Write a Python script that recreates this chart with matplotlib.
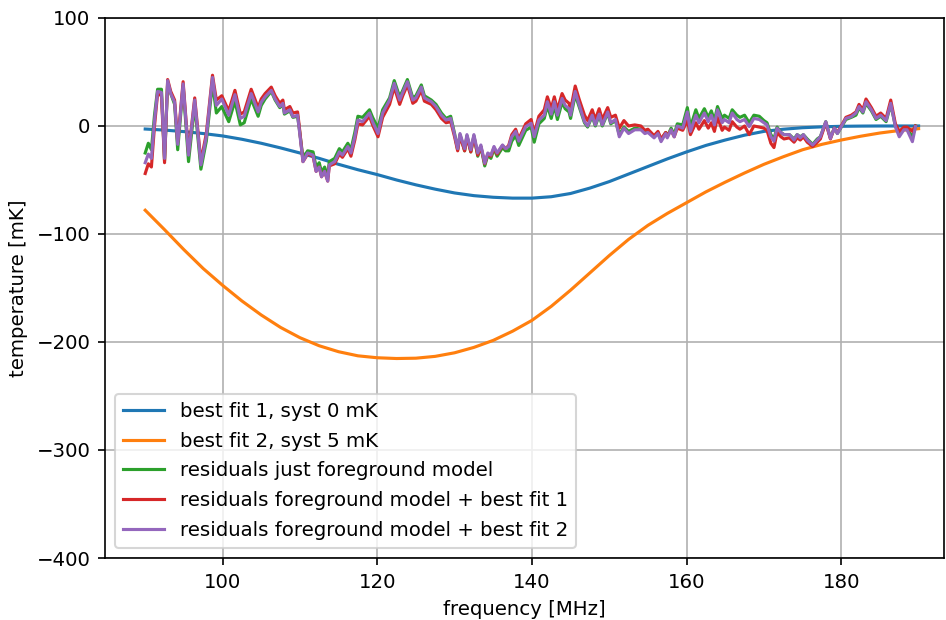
import matplotlib
matplotlib.use("Agg")
import matplotlib.pyplot as plt

# smooth fits, read every 2.5 MHz
fit_freq = [90, 92.5, 95, 97.5, 100, 102.5, 105, 107.5, 110, 112.5, 115, 117.5,
            120, 122.5, 125, 127.5, 130, 132.5, 135, 137.5, 140, 142.5, 145, 147.5,
            150, 152.5, 155, 157.5, 160, 162.5, 165, 167.5, 170, 172.5, 175, 177.5,
            180, 182.5, 185, 187.5, 190]
fit1 = [-2.8, -3.8, -5.2, -7, -9.2, -12.3, -16, -20.3, -25, -30, -35.5, -40.5,
        -45, -50, -54.5, -58.5, -62, -64.5, -66, -66.8, -66.8, -65.5, -62.5, -57.5,
        -51.5, -44.5, -37.5, -30.5, -24, -18, -13, -8.5, -5, -3, -1.6, -0.8,
        -0.3, -0.1, 0, 0, 0]
fit2 = [-78, -96, -114.5, -132, -147.5, -162, -175, -186.5, -196, -203.5, -209, -212.8,
        -214.6, -215.3, -215, -213.3, -210, -205, -198.5, -190, -180, -167, -152, -136,
        -120, -105, -92, -81, -71, -61, -52, -43.5, -35.5, -28.5, -22, -17,
        -13, -9.5, -6.5, -4.2, -2.5]

# residuals
res_freq = [90.0, 90.4, 90.8, 91.2, 91.6, 92.1, 92.5, 92.9, 93.3, 93.8, 94.2, 94.9,
            95.6, 96.4, 97.2, 97.9, 98.7, 99.2, 99.9, 100.8, 101.6, 102.3, 102.8, 103.7,
            104.6, 105.0, 105.5, 106.3, 106.8, 107.4, 107.8, 108.0, 108.7, 109.1, 109.7, 109.9,
            110.4, 111.0, 111.7, 112.1, 112.5, 112.8, 113.2, 113.6, 113.8, 114.5, 115.1, 115.5,
            116.2, 116.6, 117.1, 117.5, 118.1, 119.0, 119.4, 120.1, 120.7, 121.6, 122.2, 122.9,
            123.3, 123.9, 124.6, 125.0, 125.7, 126.1, 127.0, 127.6, 128.3, 128.9, 129.5, 130.0,
            130.4, 130.7, 131.3, 131.6, 132.1, 132.5, 133.0, 133.4, 133.9, 134.3, 134.7, 135.1,
            135.5, 136.2, 136.6, 137.0, 137.4, 137.9, 138.3, 139.2, 139.9, 140.3, 140.9, 141.6,
            142.0, 142.5, 142.9, 143.3, 143.9, 144.3, 144.8, 145.0, 145.6, 146.1, 146.8, 147.2,
            147.8, 148.2, 148.7, 149.1, 149.8, 150.2, 150.8, 151.3, 151.9, 152.5, 153.3, 154.1,
            154.6, 155.0, 155.8, 156.3, 156.7, 157.3, 157.5, 158.0, 158.4, 158.8, 159.5, 160.1,
            160.5, 161.2, 161.6, 162.3, 162.8, 163.2, 163.6, 164.0, 164.6, 164.9, 165.5, 165.9,
            166.5, 166.9, 167.5, 168.1, 168.7, 169.4, 170.0, 170.4, 170.9, 171.3, 171.7, 172.2,
            172.6, 173.3, 173.9, 174.3, 174.7, 175.1, 175.6, 176.3, 176.9, 177.3, 178.0, 178.6,
            179.1, 179.5, 180.0, 180.6, 181.3, 181.9, 182.3, 182.8, 183.2, 183.9, 184.5, 185.1,
            185.8, 186.4, 187.0, 187.5, 188.1, 188.5, 189.2, 189.6]

res_fg = [-25, -16, -22, 10, 34, 34, -32, 40, 30, 20, -22, 37,
          -33, 20, -40, -14, 40, 12, 18, 4, 23, 1, 3, 25,
          9, 19, 25, 32, 24, 17, 20, 11, 14, 8, 9, -1,
          -30, -23, -24, -38, -34, -43, -38, -47, -33, -30, -21, -24,
          -16, -22, -6, 9, 8, 15, 8, -2, 15, 26, 42, 27,
          33, 43, 26, 28, 38, 28, 24, 20, 12, 7, 9, -7,
          -22, -8, -23, -9, -24, -9, -28, -19, -37, -27, -30, -21,
          -28, -20, -23, -23, -14, -9, -18, -4, -1, -15, 2, 7,
          19, 7, 19, 6, 22, 16, 13, 7, 29, 18, 3, -1,
          9, 0, 10, 0, 12, 2, 5, -8, -1, -5, -2, -3,
          -6, -5, -10, -6, -13, -6, -10, -2, -8, 2, 1, 17,
          -1, 15, 7, 16, 8, 14, 5, 18, 7, 10, 7, 15,
          10, 8, 10, 3, 10, 9, 5, 3, -8, -12, -1, -6,
          -8, -8, -12, -8, -10, -8, -12, -17, -12, -10, 4, -11,
          -2, -7, -1, 6, 8, 10, 17, 12, 21, 14, 6, 9,
          4, 20, 0, -8, -2, -3, -10, 0]

res_fit1 = [-44, -35, -38, 0, 30, 28, -34, 43, 32, 24, -15, 41,
            -25, 26, -33, -7, 47, 24, 28, 14, 33, 11, 13, 34,
            17, 25, 30, 36, 28, 21, 24, 15, 18, 12, 13, 1,
            -33, -26, -28, -42, -38, -47, -42, -51, -37, -35, -26, -29,
            -21, -28, -13, 2, 1, 9, 1, -10, 8, 20, 36, 20,
            28, 38, 21, 23, 33, 23, 20, 15, 7, 3, 4, -10,
            -23, -9, -23, -10, -24, -10, -27, -19, -35, -26, -28, -20,
            -26, -18, -21, -18, -8, -3, -12, 2, 6, -7, 9, 15,
            27, 16, 27, 15, 30, 24, 21, 15, 37, 25, 10, 5,
            15, 6, 16, 6, 17, 8, 10, -2, 5, 0, 1, 0,
            -4, -3, -9, -5, -12, -6, -9, -4, -10, -2, -4, 5,
            -8, 3, -3, 5, -2, 3, -5, 8, -4, -1, -4, 4,
            -1, -3, 0, -8, 0, -1, -2, -4, -16, -20, -6, -10,
            -12, -11, -15, -11, -13, -10, -15, -19, -15, -12, 3, -12,
            -2, -6, 0, 8, 10, 13, 20, 15, 25, 17, 9, 12,
            7, 24, 2, -5, -1, -1, -5, 0]

res_fit2 = [-34, -26, -30, 5, 32, 31, -30, 42, 30, 22, -17, 39,
            -27, 24, -36, -10, 45, 19, 25, 10, 29, 7, 9, 30,
            13, 22, 27, 33, 25, 18, 21, 12, 15, 8.6, 10, -2,
            -33, -25, -27, -42, -38, -47, -42, -51, -36, -33, -24, -27,
            -19, -25, -10, 5.5, 4, 12, 4, -7, 12, 24, 39.5, 24,
            31, 41, 24, 26, 36, 26, 22.5, 18, 10, 5.5, 7, -8,
            -21, -7, -21, -8, -22, -8, -25, -17.6, -34.5, -25, -27, -19,
            -25, -17.6, -21, -19, -10, -5, -14, -0.6, 2.5, -10, 5.5, 10,
            22.5, 11, 22.5, 10, 25.5, 19, 16, 10, 32, 20, 4, 0,
            10, 1, 11, 1, 13, 3, 6, -10, -2, -7, -3.5, -3.5,
            -7, -6, -11, -7, -14.5, -7, -11, -3.5, -10, 0, -2, 13,
            -5, 10, 3, 12, 4, 10, 1, 15, 3, 6, 3, 12,
            6, 4, 6, -0.6, 7, 6, 3, 1, -10, -14, -2, -6,
            -8, -8, -13, -8, -11, -8, -13, -17.6, -13, -10, 4, -11.5,
            -2, -7, -0.6, 7, 8.6, 12, 18, 13, 22.5, 15, 7, 10,
            5, 21, -0.6, -10, -3.5, -3.5, -14.5, -0.6]

plt.rcParams["font.size"] = 9.5

fig = plt.figure(figsize=(946 / 150, 620 / 150), dpi=150)
ax = fig.add_axes([0.111, 0.1, 0.887, 0.871])

ax.plot(fit_freq, fit1, color="tab:blue", lw=1.5, label="best fit 1, syst 0 mK")
ax.plot(fit_freq, fit2, color="tab:orange", lw=1.5, label="best fit 2, syst 5 mK")
ax.plot(res_freq, res_fg, color="tab:green", lw=1.5, label="residuals just foreground model")
ax.plot(res_freq, res_fit1, color="tab:red", lw=1.5, label="residuals foreground model + best fit 1")
ax.plot(res_freq, res_fit2, color="tab:purple", lw=1.5, label="residuals foreground model + best fit 2")

ax.set_xlim(84.8, 193.3)
ax.set_ylim(-400, 100)
ax.set_xticks([100, 120, 140, 160, 180])
ax.set_yticks([-400, -300, -200, -100, 0, 100])
ax.grid(True)
ax.set_xlabel("frequency [MHz]")
ax.set_ylabel("temperature [mK]")
ax.legend(loc="lower left", labelspacing=0.55, handlelength=2.1)

fig.savefig("out.png", dpi=150)
